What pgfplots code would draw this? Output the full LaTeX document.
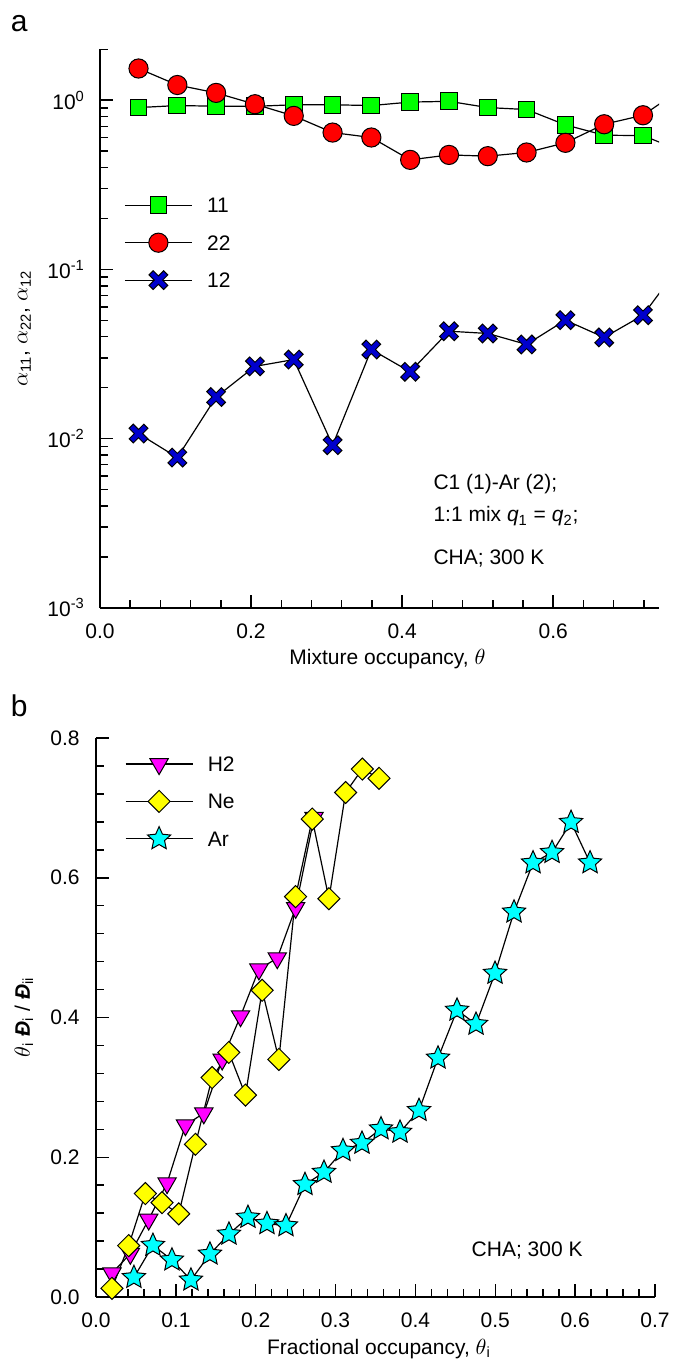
\documentclass[border=0pt]{standalone}
\usepackage{fontspec}
\setmainfont{Liberation Sans}
\usepackage{pgfplots}
\usepackage{pgfplotstable}
\pgfplotsset{compat=1.18}

\definecolor{xblue}{RGB}{0,0,205}
\definecolor{mkgreen}{RGB}{0,255,0}
\definecolor{mkred}{RGB}{255,0,0}
\definecolor{mkmag}{RGB}{255,0,255}
\definecolor{mkyel}{RGB}{255,255,0}
\definecolor{mkcyan}{RGB}{0,255,255}

% fat blue cross with black rim
\pgfdeclareplotmark{fatx}{%
  \pgfpathmoveto{\pgfpoint{-\pgfplotmarksize-0.45pt}{-\pgfplotmarksize-0.45pt}}%
  \pgfpathlineto{\pgfpoint{\pgfplotmarksize+0.45pt}{\pgfplotmarksize+0.45pt}}%
  \pgfpathmoveto{\pgfpoint{-\pgfplotmarksize-0.45pt}{\pgfplotmarksize+0.45pt}}%
  \pgfpathlineto{\pgfpoint{\pgfplotmarksize+0.45pt}{-\pgfplotmarksize-0.45pt}}%
  \pgfsetlinewidth{3.4pt}\pgfsetstrokecolor{black}%
  \pgfusepath{stroke}%
  \pgfpathmoveto{\pgfpoint{-\pgfplotmarksize}{-\pgfplotmarksize}}%
  \pgfpathlineto{\pgfpoint{\pgfplotmarksize}{\pgfplotmarksize}}%
  \pgfpathmoveto{\pgfpoint{-\pgfplotmarksize}{\pgfplotmarksize}}%
  \pgfpathlineto{\pgfpoint{\pgfplotmarksize}{-\pgfplotmarksize}}%
  \pgfsetlinewidth{2.3pt}\pgfsetstrokecolor{xblue}%
  \pgfusepath{stroke}%
}

% filled five-point star
\pgfdeclareplotmark{fstar}{%
  \pgfpathmoveto{\pgfpointpolar{90}{\pgfplotmarksize}}%
  \pgfpathlineto{\pgfpointpolar{126}{0.47\pgfplotmarksize}}%
  \pgfpathlineto{\pgfpointpolar{162}{\pgfplotmarksize}}%
  \pgfpathlineto{\pgfpointpolar{198}{0.47\pgfplotmarksize}}%
  \pgfpathlineto{\pgfpointpolar{234}{\pgfplotmarksize}}%
  \pgfpathlineto{\pgfpointpolar{270}{0.47\pgfplotmarksize}}%
  \pgfpathlineto{\pgfpointpolar{306}{\pgfplotmarksize}}%
  \pgfpathlineto{\pgfpointpolar{342}{0.47\pgfplotmarksize}}%
  \pgfpathlineto{\pgfpointpolar{18}{\pgfplotmarksize}}%
  \pgfpathlineto{\pgfpointpolar{54}{0.47\pgfplotmarksize}}%
  \pgfpathclose
  \pgfusepathqfillstroke
}

% panel a: alpha values against mixture occupancy
\pgfplotstableread{
x       a11    a22    a12
0.0510  0.905  1.54   0.0107
0.1024  0.930  1.23   0.00772
0.1537  0.922  1.105  0.0176
0.2051  0.920  0.947  0.0267
0.2565  0.940  0.808  0.0293
0.3079  0.940  0.644  0.00913
0.3592  0.930  0.602  0.0336
0.4106  0.975  0.444  0.0248
0.4620  0.985  0.475  0.0431
0.5133  0.905  0.467  0.0418
0.5647  0.881  0.491  0.0360
0.6161  0.715  0.560  0.0501
0.6674  0.621  0.721  0.0396
0.7188  0.618  0.815  0.0536
0.7702  0.500  1.17   0.109
}\tabA

% panel b
\pgfplotstableread{
x      y
0.020  0.034
0.043  0.062
0.066  0.111
0.089  0.163
0.112  0.246
0.135  0.263
0.158  0.340
0.181  0.402
0.204  0.469
0.227  0.485
0.250  0.557
0.273  0.686
}\tabHtwo

\pgfplotstableread{
x       y
0.0200  0.0124
0.0409  0.0735
0.0618  0.148
0.0827  0.135
0.1036  0.119
0.1245  0.2185
0.1454  0.314
0.1663  0.350
0.1872  0.289
0.2081  0.439
0.2290  0.340
0.2499  0.573
0.2708  0.684
0.2917  0.570
0.3126  0.722
0.3335  0.7556
0.3544  0.7423
}\tabNe

\pgfplotstableread{
x       y
0.0475  0.028
0.0713  0.074
0.0951  0.053
0.1189  0.0243
0.1427  0.0615
0.1665  0.090
0.1903  0.114
0.2141  0.105
0.2379  0.102
0.2617  0.161
0.2855  0.1785
0.3093  0.2096
0.3331  0.2201
0.3569  0.2407
0.3807  0.2359
0.4045  0.267
0.4283  0.342
0.4521  0.4105
0.4759  0.3904
0.4997  0.4633
0.5235  0.551
0.5473  0.6214
0.5711  0.6362
0.5949  0.6793
0.6187  0.6214
}\tabAr

\pgfplotsset{
  panel/.style={
    scale only axis,
    axis x line*=bottom, axis y line*=left,
    axis line style={line width=0.9pt},
    tick pos=left, tick align=inside,
    major tick length=6.3pt, minor tick length=4pt,
    every tick/.style={black, line width=0.75pt},
    xticklabel style={anchor=base, yshift=-15.2pt},
    yticklabel style={anchor=east, inner sep=0pt},
    every axis x label/.style={at={(rel axis cs:0.5,0)}, anchor=base, yshift=-28.6pt},
    legend style={draw=none, fill=none, inner sep=0pt, outer sep=0pt,
      at={(rel axis cs:0,1)}, anchor=north west, row sep=5.2pt, column sep=7.3pt,
      nodes={inner xsep=0pt, inner ysep=3pt, text height=7.5pt, text depth=0pt}},
    legend cell align=left,
    legend image code/.code={\draw[mark repeat=2,mark phase=2] plot coordinates {(0pt,0pt) (16.75pt,0pt) (33.5pt,0pt)};},
  },
  dline/.style={black, line width=0.6pt},
}

\begin{document}
\begin{tikzpicture}[font=\fontsize{10.5}{12.6}\selectfont]
\useasboundingbox (-48pt,-31.5pt) rectangle (289pt,648.5pt);

% ---- panel b ----
\begin{axis}[panel,
  at={(0pt,0pt)}, anchor=south west,
  width=279.5pt, height=279.5pt,
  xmin=0, xmax=0.7, ymin=0, ymax=0.8,
  xtick={0,0.1,0.2,0.3,0.4,0.5,0.6,0.7},
  xticklabels={0.0,0.1,0.2,0.3,0.4,0.5,0.6,0.7},
  ytick={0,0.2,0.4,0.6,0.8},
  yticklabels={0.0,0.2,0.4,0.6,0.8},
  minor x tick num=4, minor y tick num=4,
  yticklabel style={xshift=-8pt},
  every axis y label/.style={at={(rel axis cs:0,0.5)}, xshift=-36pt, rotate=90, anchor=center},
  every axis x label/.append style={xshift=1.75pt},
  xlabel={Fractional occupancy, $\theta$\textsubscript{i}},
  ylabel={$\theta$\textsubscript{i} \textbf{\textit{Đ}}\textsubscript{i} / \textbf{\textit{Đ}}\textsubscript{ii}},
  legend style={xshift=14.5pt, yshift=-6.25pt},
]
\addplot[dline, mark=triangle*, mark size=5.3pt,
  mark options={fill=mkmag, draw=black, line width=0.5pt, rotate=180}] table[x=x, y=y] {\tabHtwo};
\addplot[dline, mark=square*, mark size=3.9pt,
  mark options={fill=mkyel, draw=black, line width=0.5pt, rotate=45}] table[x=x, y=y] {\tabNe};
\addplot[dline, mark=fstar, mark size=6.1pt,
  mark options={fill=mkcyan, draw=black, line width=0.5pt}] table[x=x, y=y] {\tabAr};
\legend{H2, Ne, Ar}
\node[anchor=base west, inner sep=0pt] at (axis cs:0.470,0.0577) {CHA; 300 K};
\end{axis}

% ---- panel a ----
\begin{axis}[panel,
  at={(2pt,344.65pt)}, anchor=south west,
  width=279.5pt, height=279.2pt,
  ymode=log,
  xmin=0, xmax=0.74, ymin=1e-3, ymax=2,
  xtick={0,0.2,0.4,0.6},
  xticklabels={0.0,0.2,0.4,0.6},
  minor xtick={0.04,0.08,0.12,0.16,0.24,0.28,0.32,0.36,0.44,0.48,0.52,0.56,0.64,0.68,0.72},
  ytick={1e-3,1e-2,1e-1,1},
  yticklabels={10\textsuperscript{-3},10\textsuperscript{-2},10\textsuperscript{-1},10\textsuperscript{0}},
  minor ytick={2e-3,3e-3,4e-3,5e-3,6e-3,7e-3,8e-3,9e-3,
               2e-2,3e-2,4e-2,5e-2,6e-2,7e-2,8e-2,9e-2,
               2e-1,3e-1,4e-1,5e-1,6e-1,7e-1,8e-1,9e-1,2},
  yticklabel style={xshift=-7.35pt},
  every axis y label/.style={at={(rel axis cs:0,0.5)}, xshift=-37.8pt, rotate=90, anchor=center},
  every axis x label/.append style={xshift=4pt},
  xlabel={Mixture occupancy, $\theta$},
  ylabel={$\alpha$\textsubscript{11}, $\alpha$\textsubscript{22}, $\alpha$\textsubscript{12}},
  legend style={xshift=12.15pt, yshift=-71.25pt},
]
\addplot[dline, mark=square*, mark size=4.2pt,
  mark options={fill=mkgreen, draw=black, line width=0.5pt}] table[x=x, y=a11] {\tabA};
\addplot[dline, mark=*, mark size=4.8pt,
  mark options={fill=mkred, draw=black, line width=0.5pt}] table[x=x, y=a22] {\tabA};
\addplot[dline, mark=fatx, mark size=3.4pt] table[x=x, y=a12] {\tabA};
\legend{11, 22, 12}
\node[anchor=base west, inner sep=0pt] at (axis cs:0.441,0.0050) {C1 (1)-Ar (2);};
\node[anchor=base west, inner sep=0pt] at (axis cs:0.441,0.00322) {1:1 mix \textit{q}\textsubscript{1} = \textit{q}\textsubscript{2};};
\node[anchor=base west, inner sep=0pt] at (axis cs:0.441,0.00181) {CHA; 300 K};
\end{axis}

\node[anchor=base west, inner sep=0pt, font=\fontsize{15}{18}\selectfont] at (-42.8pt,632.6pt) {a};
\node[anchor=base west, inner sep=0pt, font=\fontsize{15}{18}\selectfont] at (-42.8pt,290.2pt) {b};
\end{tikzpicture}
\end{document}
